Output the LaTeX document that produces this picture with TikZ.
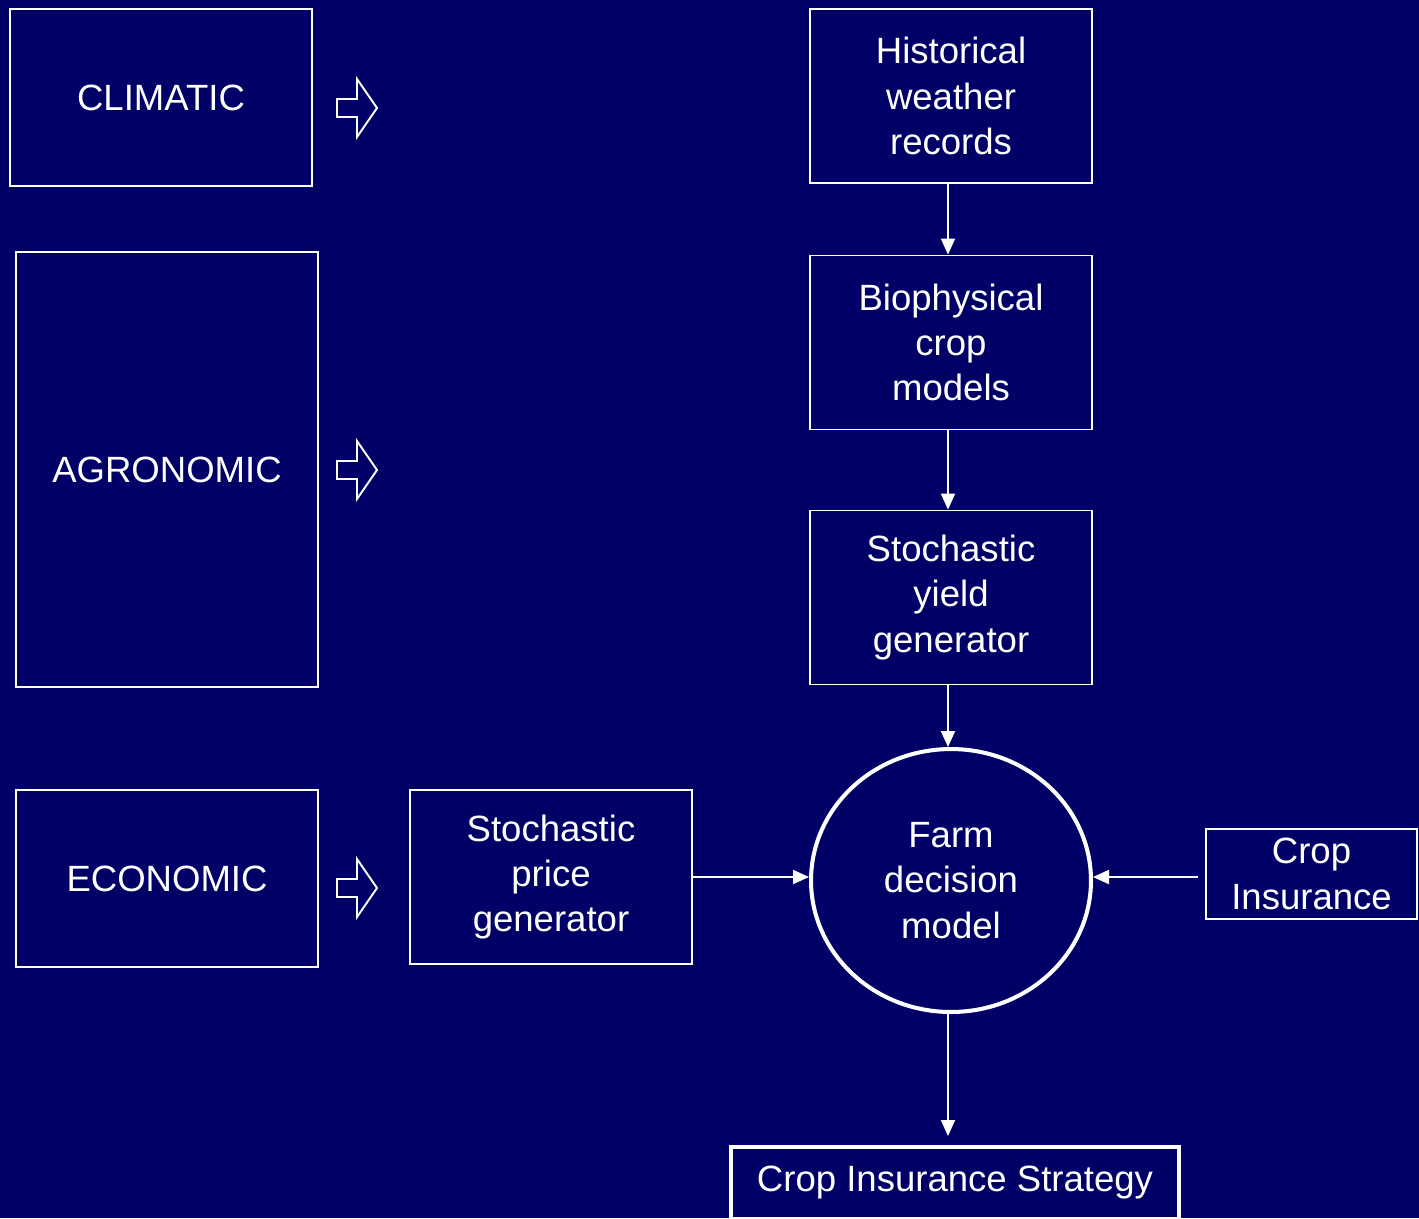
\documentclass[tikz,border=0pt]{standalone}
\usepackage{fontspec}
\setmainfont{Liberation Sans}
\usepackage{tikz}
\usetikzlibrary{calc,positioning,arrows.meta,shapes.geometric}

\definecolor{navy}{RGB}{0,0,102}

\tikzset{
  box/.style={draw=white, line width=1.1pt, inner sep=0pt, align=center},
  bigbox/.style={box, minimum width=6.04cm, minimum height=3.54cm},
  stepbox/.style={box, minimum width=5.64cm, minimum height=3.48cm},
  link/.style={draw=white, line width=1.1pt, -{Triangle[width=0.28cm,length=0.32cm]}},
  hollow/.style={draw=white, line width=1.1pt, line join=miter}
}

\begin{document}
\begin{tikzpicture}[x=0.02cm, y=-0.02cm, font=\fontsize{20.8pt}{25.8pt}\selectfont, text=white]
			\fill[navy] (0,0) rectangle (1419,1218);
			\useasboundingbox (0,0) rectangle (1419,1218);
			% left column
			\node[bigbox] at (161,97.5) (clim) {CLIMATIC};
			\node[bigbox, minimum height=8.7cm] at (167,469.5) (agro) {AGRONOMIC};
			\node[bigbox] at (167,878.5) (econ) {ECONOMIC};
			\foreach \y in {108,470,888}
				\draw[hollow] (337,\y-9) -- (357,\y-9) -- (357,\y-29) -- (377,\y)
					-- (357,\y+29) -- (357,\y+9) -- (337,\y+9) -- cycle;
			% model chain
			\node[stepbox] at (951,96) (hist) {Historical\\weather\\records};
			\node[stepbox] at (951,342.5) (bio) {Biophysical\\crop\\models};
			\node[stepbox] at (951,597.5) (yield) {Stochastic\\yield\\generator};
			\node[stepbox] at (551,877) (price) {Stochastic\\price\\generator};
			\node[draw=white, line width=2.3pt, ellipse, inner sep=0pt, align=center,
				minimum width=5.6cm, minimum height=5.26cm] at (951,880.5) (farm) {Farm\\decision\\model};
			\node[box, minimum width=4.22cm, minimum height=1.8cm] at (1311.5,874) (ins) {Crop\\Insurance};
			\node[box, line width=2.3pt, minimum width=8.96cm, minimum height=1.44cm] at (955,1183) (strat) {Crop Insurance Strategy};
			\draw[link] (hist.south -| 948,0) -- (bio.north -| 948,0);
			\draw[link] (bio.south -| 948,0) -- (yield.north -| 948,0);
			\draw[link] (yield.south -| 948,0) -- (farm.north -| 948,0);
			\draw[link] (price.east) -- (price.east -| farm.west);
			\draw[link, shorten <=0.14cm] ($(ins.west)+(0,3)$) -- ($(ins.west -| farm.east)+(0,3)$);
			\draw[link, shorten >=0.18cm] (farm.south -| 948,0) -- (strat.north -| 948,0);
		\end{tikzpicture}
\end{document}
